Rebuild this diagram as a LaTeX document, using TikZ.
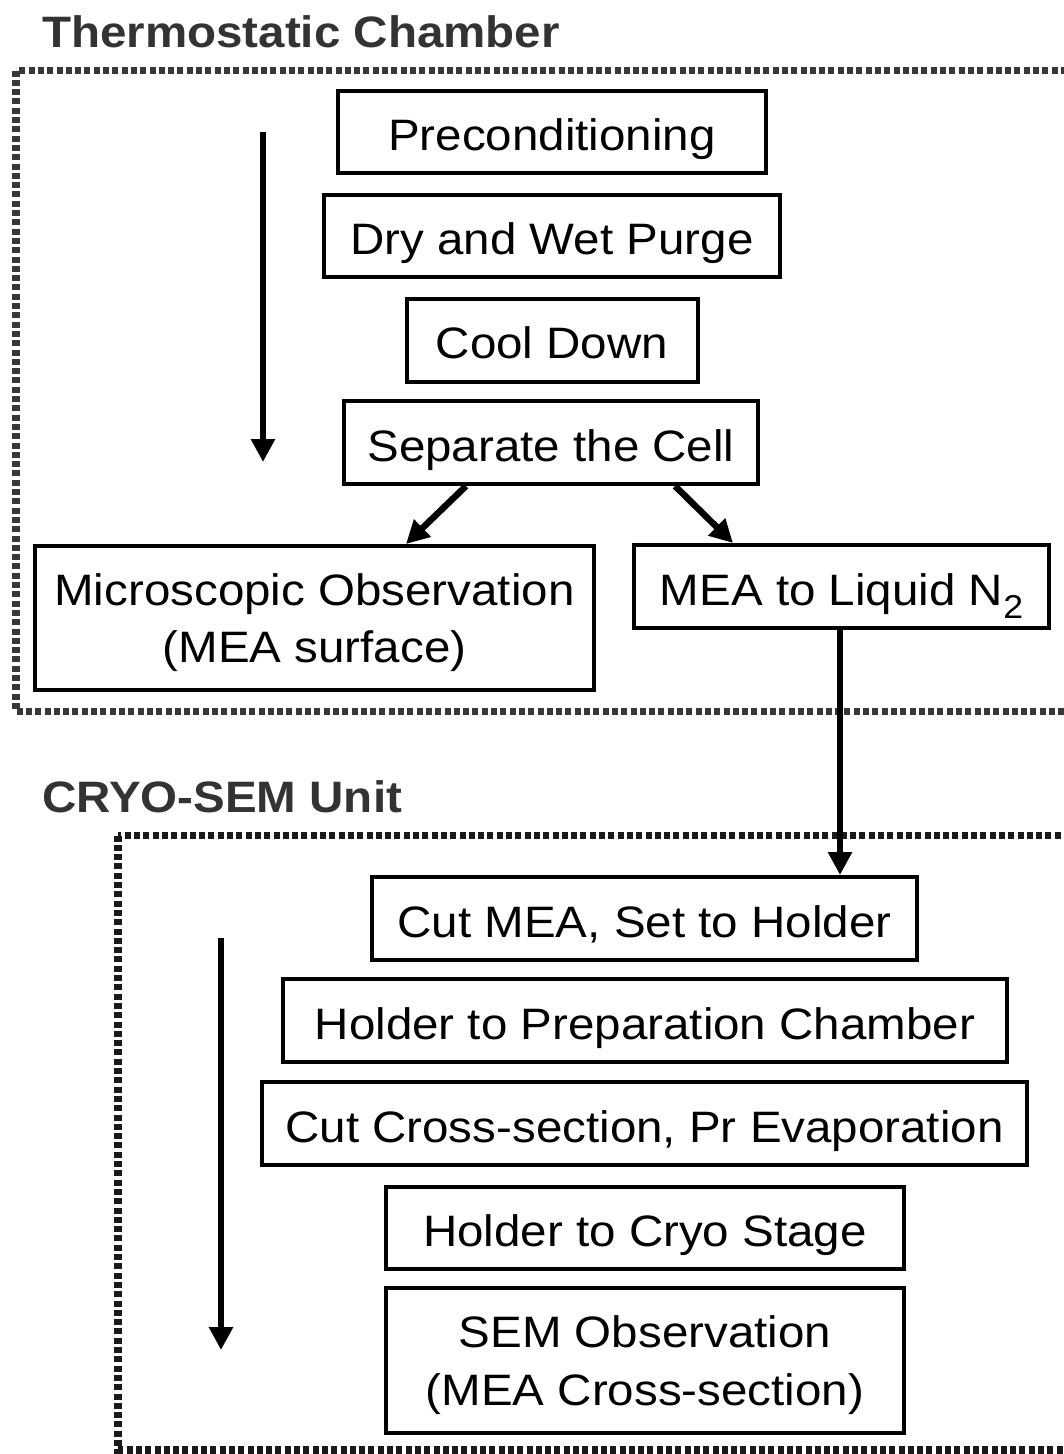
\documentclass[tikz,border=0pt]{standalone}
\usepackage{fontspec}
\setmainfont[FakeStretch=1.08]{Liberation Sans}
\usetikzlibrary{arrows.meta}

\definecolor{frameA}{HTML}{383838}
\definecolor{frameB}{HTML}{1A1A1A}
\definecolor{titlecol}{HTML}{333333}
\newcommand\boxfont{\fontsize{44pt}{57.5pt}\selectfont}
\newcommand\subtwo{\raisebox{-13pt}{\fontsize{33pt}{33pt}\selectfont 2}}

\begin{document}
\begin{tikzpicture}[x=1pt,y=-1pt,
  stepbox/.style={draw, line width=4pt, inner sep=0pt, font=\boxfont,
    text height=37pt, text depth=0pt},
  stepbox2/.style={draw, line width=4pt, inner sep=0pt, font=\boxfont,
    align=center, text depth=0pt},
  flow/.style={line width=6.5pt, -{Triangle[length=23pt,width=23pt]}},
  sectionframe/.style={line width=7.5pt, dash pattern=on 6pt off 3.3pt},
  heading/.style={anchor=base west, inner sep=0pt, text=titlecol,
    font=\fontsize{44pt}{50pt}\selectfont\bfseries}]

\useasboundingbox (0,0) rectangle (1064,1454);
\clip (0,0) rectangle (1064,1454);

% section frames (right sides run just past the page edge)
\draw[sectionframe, frameA] (16,70.5) rectangle (1067.6,711.5);
\draw[sectionframe, frameB] (118,835.5) rectangle (1067.6,1450);

% section headings
\node[heading] (hA) at (42,47) {Thermostatic Chamber};
\node[heading] (hB) at (42,812) {CRYO-SEM Unit};

% thermostatic chamber steps
\node[stepbox, minimum width=428pt, minimum height=82pt] (pre)  at (552,132)   {Preconditioning};
\node[stepbox, minimum width=456pt, minimum height=82pt] (dry)  at (552,236)   {Dry and Wet Purge};
\node[stepbox, minimum width=291pt, minimum height=83pt] (cool) at (552,340)   {Cool Down};
\node[stepbox, minimum width=414pt, minimum height=83pt] (sep)  at (551,442.5) {Separate the Cell};
\node[stepbox2, minimum width=559pt, minimum height=144pt] (micro) at (314.5,618)
  {Microscopic Observation\\(MEA surface)};
\node[stepbox, minimum width=415pt, minimum height=83pt] (ln2)  at (841.5,586.5) {MEA to Liquid N\subtwo};

% cryo-SEM steps
\node[stepbox, minimum width=545pt, minimum height=83pt] (cut)   at (644.5,918.5)  {Cut MEA, Set to Holder};
\node[stepbox, minimum width=724pt, minimum height=83pt] (prep)  at (645,1020.5)   {Holder to Preparation Chamber};
\node[stepbox, minimum width=765pt, minimum height=83pt] (cross) at (644.5,1123.5) {Cut Cross-section, Pr Evaporation};
\node[stepbox, minimum width=518pt, minimum height=82pt] (stage) at (645,1228)     {Holder to Cryo Stage};
\node[stepbox2, minimum width=518pt, minimum height=145pt] (sem) at (645,1360.5)
  {SEM Observation\\(MEA Cross-section)};

% process direction arrows
\coordinate (dA1) at (263,132);
\coordinate (dA2) at (263,462);
\coordinate (dB1) at (221,938);
\coordinate (dB2) at (221,1350);
\draw[flow] (dA1) -- (dA2);
\draw[flow] (dB1) -- (dB2);

% branching and transfer arrows
\draw[flow] ([xshift=124pt]sep.south west) -- ([xshift=373pt]micro.north west);
\draw[flow] ([xshift=333pt]sep.south west) -- ([xshift=101pt]ln2.north west);
\draw[flow] ([xshift=208pt]ln2.south west) -- ([xshift=470pt]cut.north west);

\end{tikzpicture}
\end{document}
